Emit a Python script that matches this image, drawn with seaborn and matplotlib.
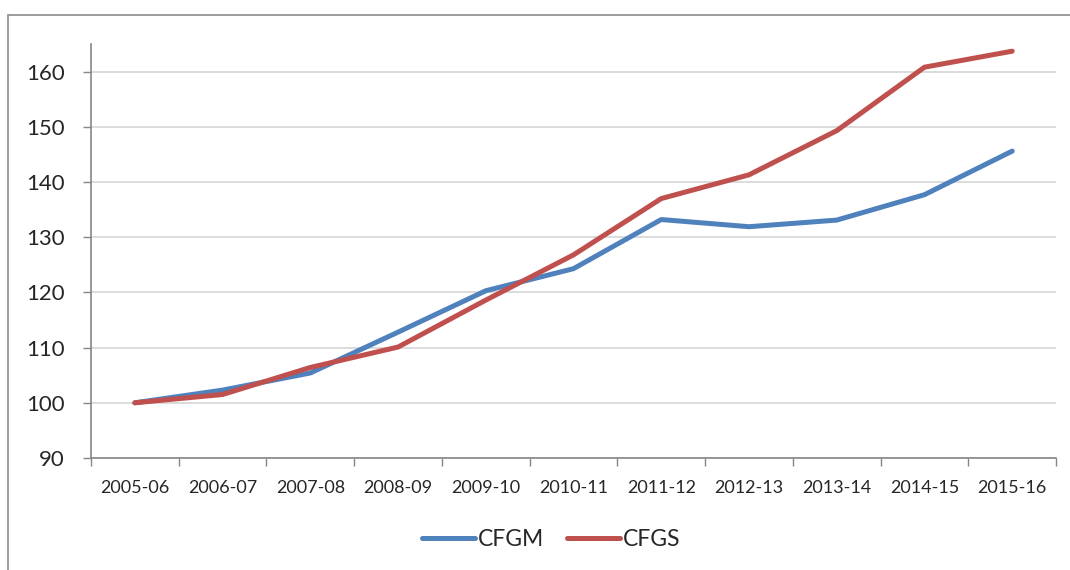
import numpy as np
import pandas as pd
import matplotlib
matplotlib.use('Agg')
import matplotlib.pyplot as plt
import seaborn as sns
from matplotlib.patches import Rectangle

# Data (index, 2005-06 = 100)
years = ['2005-06', '2006-07', '2007-08', '2008-09', '2009-10', '2010-11',
         '2011-12', '2012-13', '2013-14', '2014-15', '2015-16']
cfgm = [100, 102.3, 105.4, 112.8, 120.3, 124.3, 133.2, 131.9, 133.1, 137.7, 145.6]
cfgs = [100, 101.5, 106.4, 110.1, 118.6, 126.8, 137.0, 141.3, 149.3, 160.8, 163.7]
series_names = ['CFGM', 'CFGS']
colors = ['#4F81BD', '#C0504D']
y_ticks = [90, 100, 110, 120, 130, 140, 150, 160]

df = pd.DataFrame({
    'year': years * 2,
    'x': list(range(len(years))) * 2,
    'value': cfgm + cfgs,
    'series': [series_names[0]] * len(years) + [series_names[1]] * len(years),
})

sns.set_theme(style='white')
plt.rcParams['font.family'] = ['Lato', 'DejaVu Sans']

fig = plt.figure(figsize=(10.7, 5.7), dpi=100)
ax = fig.add_axes([0.085, 0.1965, 0.902, 0.7263])

# outer chart frame like the Excel chart area
fig.patches.append(Rectangle((8 / 1070, -0.05), 1.2, 1 - 15 / 570 + 0.05,
                             transform=fig.transFigure, fill=False,
                             edgecolor='#8C8C8C', linewidth=1.2))

sns.lineplot(data=df, x='x', y='value', hue='series', palette=colors,
             linewidth=3.6, ax=ax, legend=True, solid_capstyle='round')

ax.set_xlim(-0.5, len(years) - 0.5)
ax.set_ylim(90, 165)
ax.set_yticks(y_ticks)
ax.set_yticklabels([str(t) for t in y_ticks], fontsize=16)
ax.set_xticks(range(len(years)))
ax.set_xticklabels(years, fontsize=13)
ax.set_xticks(np.arange(-0.5, len(years), 1), minor=True)
ax.tick_params(axis='x', which='major', length=0, pad=16)
ax.tick_params(axis='x', which='minor', length=6, width=1, color='#868686',
               direction='out', bottom=True)
ax.tick_params(axis='y', length=6, width=1, color='#868686', direction='out',
               left=True, pad=13)
ax.set_xlabel('')
ax.set_ylabel('')

ax.grid(axis='y', color='#D9D9D9', linewidth=1.3)
ax.set_axisbelow(True)
for side in ['top', 'right']:
    ax.spines[side].set_visible(False)
for side in ['left', 'bottom']:
    ax.spines[side].set_color('#868686')
    ax.spines[side].set_linewidth(1.2)

handles, labels = ax.get_legend_handles_labels()
ax.legend(handles, labels, loc='center', bbox_to_anchor=(0.477, -0.198),
          ncol=2, frameon=False, fontsize=16.5, handlelength=2.3,
          handletextpad=0.15, columnspacing=1.0)

fig.savefig('out.png', dpi=100, facecolor='white')
